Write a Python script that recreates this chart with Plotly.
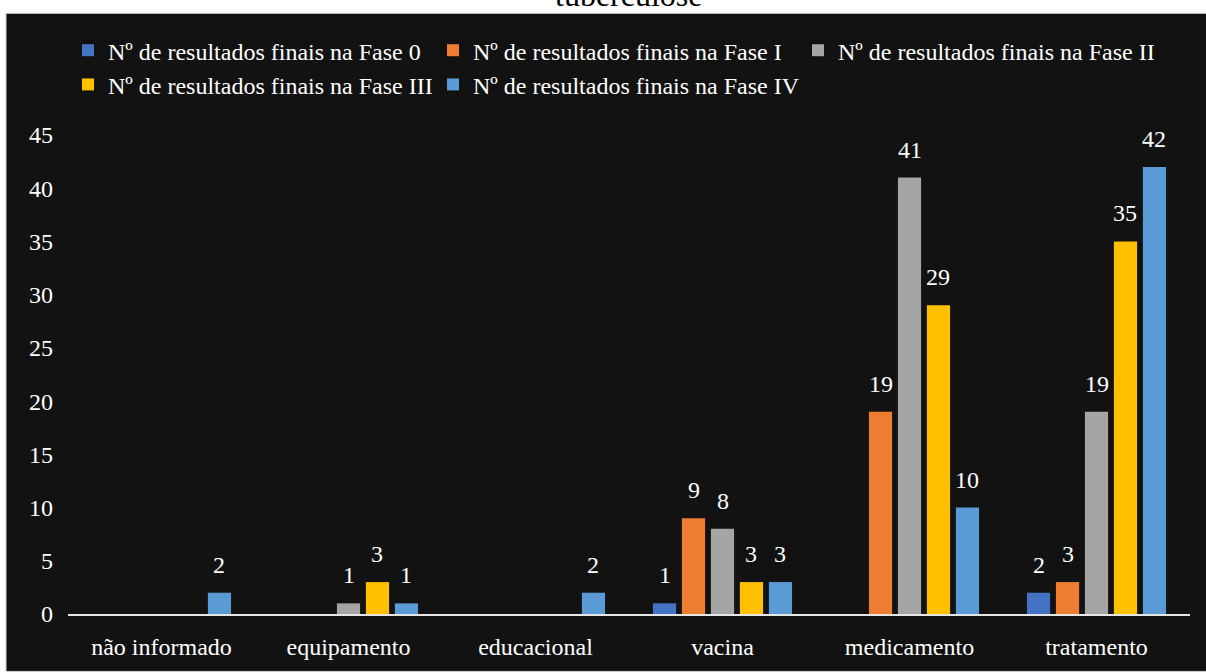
import plotly.graph_objects as go

categories = ["não informado", "equipamento", "educacional", "vacina", "medicamento", "tratamento"]
series_names = [
    "Nº de resultados finais na Fase 0",
    "Nº de resultados finais na Fase I",
    "Nº de resultados finais na Fase II",
    "Nº de resultados finais na Fase III",
    "Nº de resultados finais na Fase IV",
]
fase0 = [None, None, None, 1, None, 2]
fase1 = [None, None, None, 9, 19, 3]
fase2 = [None, 1, None, 8, 41, 19]
fase3 = [None, 3, None, 3, 29, 35]
fase4 = [2, 1, 2, 3, 10, 42]
series_values = [fase0, fase1, fase2, fase3, fase4]
colors = ["#4472C4", "#ED7D31", "#A5A5A5", "#FFC000", "#5B9BD5"]
y_ticks = [0, 5, 10, 15, 20, 25, 30, 35, 40, 45]

FONT = "Liberation Serif"
BG = "#121212"
W, H = 1206, 672
ML, MR, MT, MB = 68, 16, 135, 53
PW, PH = W - ML - MR, H - MT - MB
BARGAP = 0.225
BARGROUPGAP = 0.2

def px_to_paper_x(px):
    return (px - ML) / PW

def px_to_paper_y(py):
    return (H - MB - py) / PH

fig = go.Figure()
for name, vals, col in zip(series_names, series_values, colors):
    fig.add_trace(go.Bar(name=name, x=categories, y=vals, marker_color=col,
                         marker_line_width=0))

# data labels above bars
n = len(series_values)
slot = (1 - BARGAP) / n
annotations = []
for i, vals in enumerate(series_values):
    for ci, v in enumerate(vals):
        if v is None:
            continue
        annotations.append(dict(
            x=ci + (i - (n - 1) / 2) * slot, y=v, xref="x", yref="y",
            text=str(v), showarrow=False, yanchor="bottom", yshift=13,
            font=dict(family=FONT, size=24, color="white")))

# cropped title at top
annotations.append(dict(
    x=0.5, xref="paper", xanchor="center",
    y=px_to_paper_y(14), yref="paper", yanchor="bottom",
    text="tuberculose", showarrow=False,
    font=dict(family=FONT, size=32, color="black")))

shapes = [dict(
    type="rect", xref="paper", yref="paper", layer="below",
    x0=px_to_paper_x(6), x1=px_to_paper_x(W + 5),
    y0=px_to_paper_y(H + 5), y1=px_to_paper_y(12),
    fillcolor=BG, line=dict(color="#d0d0d0", width=1))]

fig.update_layout(
    width=W, height=H, autosize=False,
    margin=dict(l=ML, r=MR, t=MT, b=MB, pad=0),
    paper_bgcolor="white", plot_bgcolor=BG,
    barmode="group", bargap=BARGAP, bargroupgap=BARGROUPGAP,
    font=dict(family=FONT, size=24, color="white"),
    showlegend=True,
    legend=dict(orientation="h", x=0.0, xanchor="left",
                y=px_to_paper_y(27), yanchor="top",
                font=dict(family=FONT, size=24, color="white"),
                bgcolor="rgba(0,0,0,0)", entrywidth=320, entrywidthmode="pixels",
                traceorder="normal", itemwidth=30, tracegroupgap=0),
    annotations=annotations,
    shapes=shapes,
    xaxis=dict(type="category", showgrid=False, zeroline=False,
               showline=True, linecolor="#e6e6e6", linewidth=1.5,
               ticks="", tickfont=dict(family=FONT, size=24, color="white"),
               ticklabelstandoff=10, fixedrange=True),
    yaxis=dict(range=[0, 45], tickvals=y_ticks, showgrid=False, zeroline=False,
               showline=False, ticks="",
               tickfont=dict(family=FONT, size=24, color="white"),
               ticklabelstandoff=14, fixedrange=True),
)

fig.write_html("out.html")
